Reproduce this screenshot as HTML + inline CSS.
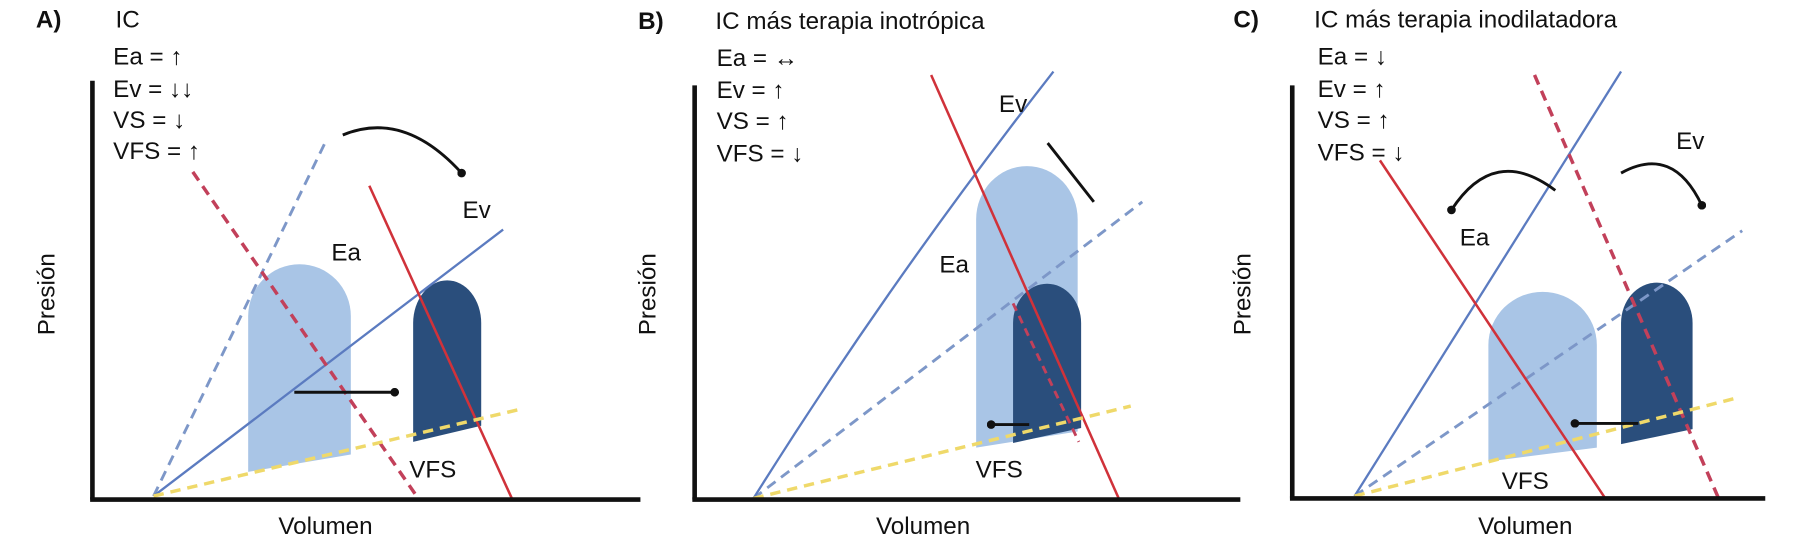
<!DOCTYPE html>
<html><head><meta charset="utf-8"><style>
html,body{margin:0;padding:0;background:#fff;width:1800px;height:548px;overflow:hidden}
svg text{font-family:"Liberation Sans",sans-serif;fill:#111}
</style></head><body>
<svg width="1800" height="548" viewBox="0 0 1560 475" xmlns="http://www.w3.org/2000/svg">
<defs><marker id="dot" viewBox="0 0 10 10" refX="5" refY="5" markerWidth="3" markerHeight="3"><circle cx="5" cy="5" r="5" fill="#111"/></marker></defs>
<g font-size="21">
<!-- Panel A -->
<text x="31" y="24" font-weight="bold">A)</text>
<text x="100" y="24">IC</text>
<text x="98" y="56">Ea = ↑</text>
<text x="98" y="84">Ev = ↓↓</text>
<text x="98" y="111">VS = ↓</text>
<text x="98" y="138">VFS = ↑</text>
<path d="M215,409 L215,274 A44.5,45 0 0 1 304,274 L304,394 Z" fill="#a9c5e6"/>
<path d="M358,383 L358,280 A29.5,37 0 0 1 417,280 L417,369 Z" fill="#2a4e7c"/>
<line x1="133" y1="430" x2="282" y2="123" stroke="#7d97c8" stroke-width="2.5" stroke-dasharray="9,6"/>
<line x1="133" y1="430" x2="436" y2="199" stroke="#5b7bc0" stroke-width="2"/>
<line x1="167" y1="149" x2="361" y2="430" stroke="#c2405a" stroke-width="3" stroke-dasharray="9,6"/>
<line x1="320" y1="161" x2="444" y2="433" stroke="#d0323a" stroke-width="2.2"/>
<line x1="133" y1="430" x2="454" y2="354" stroke="#efd96a" stroke-width="3" stroke-dasharray="9,6"/>
<line x1="255" y1="340" x2="342" y2="340" stroke="#111" stroke-width="2.5" marker-end="url(#dot)"/>
<path d="M297,117 Q350,95 400,150" fill="none" stroke="#111" stroke-width="2.5" marker-end="url(#dot)"/>
<line x1="80" y1="70" x2="80" y2="433" stroke="#111" stroke-width="4"/>
<line x1="78" y1="433" x2="555" y2="433" stroke="#111" stroke-width="4"/>
<text x="300" y="226" text-anchor="middle">Ea</text>
<text x="413" y="189" text-anchor="middle">Ev</text>
<text x="375" y="414" text-anchor="middle">VFS</text>
<text transform="translate(47,255) rotate(-90)" text-anchor="middle">Presión</text>
<text x="282" y="463" text-anchor="middle">Volumen</text>

<!-- Panel B -->
<text x="553" y="25" font-weight="bold">B)</text>
<text x="620" y="25">IC más terapia inotrópica</text>
<text x="621" y="57">Ea = ↔</text>
<text x="621" y="85">Ev = ↑</text>
<text x="621" y="112">VS = ↑</text>
<text x="621" y="140">VFS = ↓</text>
<path d="M846,388 L846,190 A44,46 0 0 1 934,190 L934,374 Z" fill="#a9c5e6"/>
<path d="M878,384 L878,280 A29.5,34 0 0 1 937,280 L937,371 Z" fill="#2a4e7c"/>
<line x1="653" y1="432" x2="990" y2="175" stroke="#7d97c8" stroke-width="2.5" stroke-dasharray="9,6"/>
<path d="M653,432 Q770,245 913,62" fill="none" stroke="#5b7bc0" stroke-width="2"/>
<line x1="807" y1="65" x2="970" y2="433" stroke="#d0323a" stroke-width="2.2"/>
<line x1="878" y1="263" x2="935" y2="383" stroke="#c2405a" stroke-width="2.5" stroke-dasharray="7,5"/>
<line x1="653" y1="432" x2="980" y2="352" stroke="#efd96a" stroke-width="3" stroke-dasharray="9,6"/>
<line x1="892" y1="368" x2="859" y2="368" stroke="#111" stroke-width="2.5" marker-end="url(#dot)"/>
<line x1="948" y1="175" x2="908" y2="124" stroke="#111" stroke-width="2.5"/>
<line x1="602" y1="74" x2="602" y2="433" stroke="#111" stroke-width="4"/>
<line x1="600" y1="433" x2="1075" y2="433" stroke="#111" stroke-width="4"/>
<text x="878" y="97" text-anchor="middle">Ev</text>
<text x="827" y="236" text-anchor="middle">Ea</text>
<text x="866" y="414" text-anchor="middle">VFS</text>
<text transform="translate(568,255) rotate(-90)" text-anchor="middle">Presión</text>
<text x="800" y="463" text-anchor="middle">Volumen</text>

<!-- Panel C -->
<text x="1069" y="24" font-weight="bold">C)</text>
<text x="1139" y="24">IC más terapia inodilatadora</text>
<text x="1142" y="56">Ea = ↓</text>
<text x="1142" y="84">Ev = ↑</text>
<text x="1142" y="111">VS = ↑</text>
<text x="1142" y="139">VFS = ↓</text>
<path d="M1290,400 L1290,299 A47,46 0 0 1 1384,299 L1384,388 Z" fill="#a9c5e6"/>
<path d="M1405,385 L1405,280 A31,35 0 0 1 1467,280 L1467,372 Z" fill="#2a4e7c"/>
<line x1="1174" y1="430" x2="1510" y2="200" stroke="#7d97c8" stroke-width="2.5" stroke-dasharray="9,6"/>
<line x1="1174" y1="430" x2="1405" y2="62" stroke="#5b7bc0" stroke-width="2"/>
<line x1="1330" y1="65" x2="1490" y2="433" stroke="#c2405a" stroke-width="3" stroke-dasharray="9,6"/>
<line x1="1196" y1="139" x2="1392" y2="433" stroke="#d0323a" stroke-width="2.2"/>
<line x1="1174" y1="430" x2="1505" y2="345" stroke="#efd96a" stroke-width="3" stroke-dasharray="9,6"/>
<line x1="1420" y1="367" x2="1365" y2="367" stroke="#111" stroke-width="2.5" marker-end="url(#dot)"/>
<path d="M1348,165 Q1295,125 1258,182" fill="none" stroke="#111" stroke-width="2.5" marker-end="url(#dot)"/>
<path d="M1405,150 Q1450,125 1475,178" fill="none" stroke="#111" stroke-width="2.5" marker-end="url(#dot)"/>
<line x1="1120" y1="74" x2="1120" y2="432" stroke="#111" stroke-width="4"/>
<line x1="1118" y1="432" x2="1530" y2="432" stroke="#111" stroke-width="4"/>
<text x="1278" y="213" text-anchor="middle">Ea</text>
<text x="1465" y="129" text-anchor="middle">Ev</text>
<text x="1322" y="424" text-anchor="middle">VFS</text>
<text transform="translate(1084,255) rotate(-90)" text-anchor="middle">Presión</text>
<text x="1322" y="463" text-anchor="middle">Volumen</text>
</g>
</svg>
</body></html>
